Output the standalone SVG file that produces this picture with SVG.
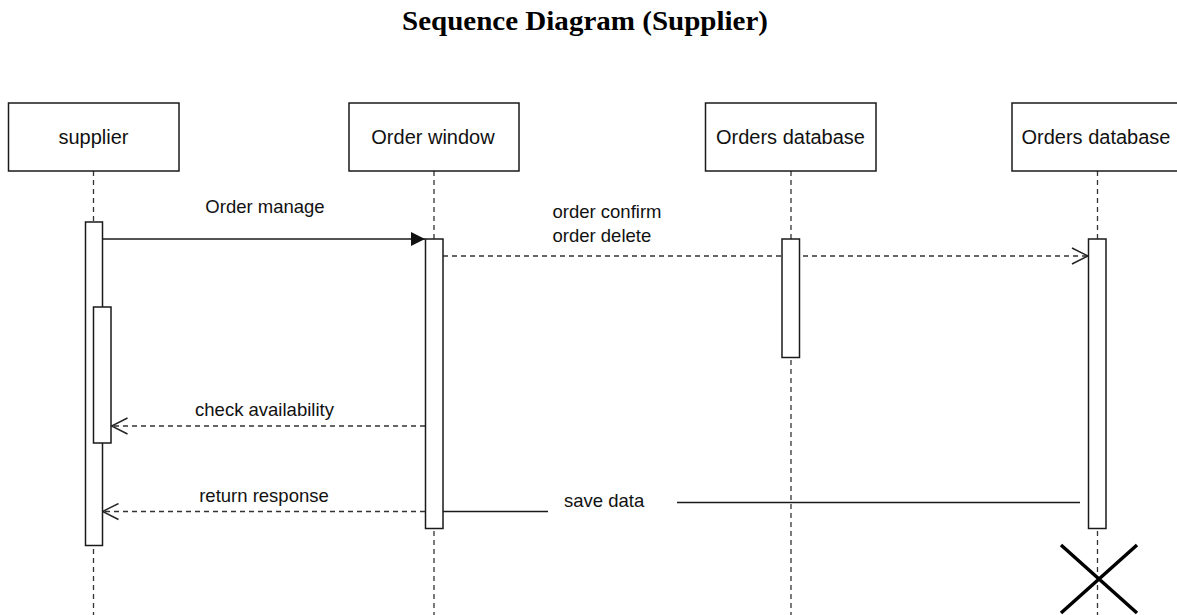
<svg xmlns="http://www.w3.org/2000/svg" width="1177" height="615" viewBox="0 0 1177 615">
  <defs>
    <style>
      .box { fill: #ffffff; stroke: #1a1a1a; stroke-width: 1.5; }
      .act { fill: #ffffff; stroke: #1a1a1a; stroke-width: 1.5; }
      .life { stroke: #333333; stroke-width: 1.3; stroke-dasharray: 5 4; fill: none; }
      .msg { stroke: #1a1a1a; stroke-width: 1.4; fill: none; }
      .ret { stroke: #333333; stroke-width: 1.3; stroke-dasharray: 5 4; fill: none; }
      .head { font-family: "Liberation Sans", Arial, sans-serif; font-size: 20px; fill: #111111; text-anchor: middle; }
      .lbl { font-family: "Liberation Sans", Arial, sans-serif; font-size: 18.5px; fill: #111111; }
      .title { font-family: "Liberation Serif", "Times New Roman", serif; font-size: 27px; font-weight: bold; fill: #000000; text-anchor: middle; }
    </style>
    <marker id="filled" viewBox="0 0 14 14" refX="14" refY="7" markerWidth="14" markerHeight="14" markerUnits="userSpaceOnUse" orient="auto">
      <path d="M0,0 L14,7 L0,14 Z" fill="#111111"/>
    </marker>
    <marker id="open" viewBox="0 0 18 18" refX="17" refY="9" markerWidth="18" markerHeight="18" markerUnits="userSpaceOnUse" orient="auto">
      <path d="M1,1 L17,9 L1,17" fill="none" stroke="#222222" stroke-width="1.4"/>
    </marker>
  </defs>

  <rect x="0" y="0" width="1177" height="615" fill="#ffffff"/>

  <text class="title" x="585" y="30" textLength="366" lengthAdjust="spacingAndGlyphs">Sequence Diagram (Supplier)</text>

  <!-- lifelines (dashed) -->
  <g id="lifelines">
    <line class="life" x1="93.5" y1="171" x2="93.5" y2="615"/>
    <line class="life" x1="434" y1="171" x2="434" y2="615"/>
    <line class="life" x1="791" y1="171" x2="791" y2="615"/>
    <line class="life" x1="1097.5" y1="171" x2="1097.5" y2="615"/>
  </g>

  <!-- messages -->
  <g id="connectors">
    <line class="msg" x1="102.5" y1="239" x2="425" y2="239" marker-end="url(#filled)"/>
    <line class="ret" x1="443" y1="256" x2="1088" y2="256" marker-end="url(#open)"/>
    <line class="ret" x1="425" y1="426" x2="111.5" y2="426" marker-end="url(#open)"/>
    <line class="ret" x1="425" y1="511.5" x2="102.5" y2="511.5" marker-end="url(#open)"/>
    <line class="msg" x1="442" y1="511.5" x2="548" y2="511.5"/>
    <line class="msg" x1="677" y1="502.5" x2="1080" y2="502.5"/>
  </g>

  <!-- participant heads -->
  <g id="supplier">
    <rect class="box" x="8.5" y="103" width="170.5" height="68"/>
    <text class="head" x="93.5" y="143.5">supplier</text>
    <rect class="act" x="85.5" y="222" width="17" height="323.5"/>
    <rect class="act" x="93.5" y="307" width="17.5" height="136"/>
  </g>

  <g id="order-window">
    <rect class="box" x="349" y="103" width="170" height="68"/>
    <text class="head" x="433" y="143.5">Order window</text>
    <rect class="act" x="425.5" y="239" width="17.5" height="289.5"/>
  </g>

  <g id="orders-database-1">
    <rect class="box" x="705.5" y="103" width="170.5" height="68"/>
    <text class="head" x="790.5" y="143.5">Orders database</text>
    <rect class="act" x="782" y="239" width="17.5" height="118.5"/>
  </g>

  <g id="orders-database-2">
    <rect class="box" x="1012" y="103" width="172" height="68"/>
    <text class="head" x="1096" y="143.5">Orders database</text>
    <rect class="act" x="1088.5" y="239" width="17.5" height="289.5"/>
    <!-- destruction mark -->
    <path d="M1061,545 L1137,613 M1137,545 L1061,613" stroke="#000000" stroke-width="3.5" fill="none"/>
  </g>

  <!-- message labels -->
  <g id="labels">
    <text class="lbl" x="265" y="212.5" text-anchor="middle">Order manage</text>
    <text class="lbl" x="552.5" y="217.5">order confirm</text>
    <text class="lbl" x="552.5" y="241.5">order delete</text>
    <text class="lbl" x="264.5" y="415.5" text-anchor="middle">check availability</text>
    <text class="lbl" x="264" y="501.5" text-anchor="middle">return response</text>
    <text class="lbl" x="564" y="507">save data</text>
  </g>
</svg>
